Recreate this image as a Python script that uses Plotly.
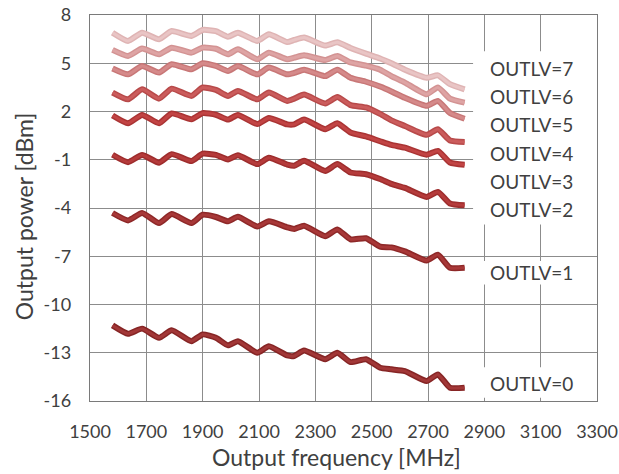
import plotly.graph_objects as go

# ---------------- data ----------------
freq = [1580, 1635, 1685, 1745, 1790, 1860, 1900, 1947, 1990, 2025, 2094, 2135, 2200,
        2225, 2260, 2335, 2378, 2425, 2480, 2530, 2570, 2618, 2695, 2735, 2778, 2830]

outlv0 = [-11.30, -11.82, -11.50, -12.07, -11.60, -12.28, -11.86, -12.07, -12.54, -12.28, -13.00, -12.60, -13.17,
          -13.20, -12.86, -13.40, -13.00, -13.58, -13.40, -13.93, -14.03, -14.14, -14.76, -14.35, -15.17, -15.17]
outlv1 = [-4.31, -4.77, -4.31, -4.94, -4.38, -4.94, -4.42, -4.56, -4.83, -4.55, -5.15, -4.83, -5.20,
          -5.30, -5.10, -5.75, -5.33, -5.95, -5.88, -6.40, -6.45, -6.70, -7.27, -6.90, -7.72, -7.72]
outlv2 = [-0.69, -1.15, -0.70, -1.18, -0.65, -1.08, -0.62, -0.70, -0.98, -0.72, -1.27, -0.88, -1.30,
          -1.37, -1.06, -1.70, -1.27, -1.79, -1.90, -2.20, -2.50, -2.75, -3.31, -3.00, -3.72, -3.83]
outlv3 = [1.75, 1.27, 1.79, 1.27, 1.88, 1.52, 1.90, 1.80, 1.50, 1.79, 1.22, 1.60, 1.20,
          1.20, 1.50, 0.90, 1.27, 0.70, 0.45, 0.15, -0.08, -0.25, -0.69, -0.45, -1.17, -1.31]
outlv4 = [3.18, 2.76, 3.38, 2.80, 3.42, 2.97, 3.49, 3.34, 2.97, 3.28, 2.76, 3.18, 2.66,
          2.80, 3.05, 2.50, 2.90, 2.40, 2.25, 1.85, 1.45, 1.10, 0.55, 0.90, 0.20, 0.10]
outlv5 = [4.67, 4.31, 4.83, 4.42, 4.94, 4.63, 5.00, 4.83, 4.52, 4.83, 4.31, 4.73, 4.31,
          4.40, 4.60, 4.20, 4.60, 4.10, 3.85, 3.55, 3.25, 2.85, 2.35, 2.66, 1.90, 1.55]
outlv6 = [5.83, 5.45, 5.91, 5.56, 5.97, 5.66, 5.97, 5.90, 5.56, 5.87, 5.25, 5.66, 5.25,
          5.35, 5.50, 5.20, 5.45, 5.05, 4.85, 4.60, 4.20, 3.80, 3.07, 3.50, 2.80, 2.55]
outlv7 = [6.90, 6.39, 6.90, 6.49, 7.00, 6.70, 7.07, 7.00, 6.65, 6.90, 6.39, 6.80, 6.32,
          6.45, 6.60, 6.10, 6.30, 5.95, 5.60, 5.30, 5.00, 4.60, 4.10, 4.25, 3.70, 3.38]

series = [outlv0, outlv1, outlv2, outlv3, outlv4, outlv5, outlv6, outlv7]
labels = ["OUTLV=0", "OUTLV=1", "OUTLV=2", "OUTLV=3", "OUTLV=4", "OUTLV=5", "OUTLV=6", "OUTLV=7"]
label_y = [-14.9, -8.0, -4.1, -2.35, -0.59, 1.17, 2.93, 4.69]

x_ticks = list(range(1500, 3301, 200))
y_ticks = list(range(-16, 9, 3))

# ---------------- styles ----------------
inner_colors = ["#a23737", "#a83838", "#b53b3b", "#c24444", "#cb5c5c", "#d58a8a", "#dea4a4", "#e9c5c5"]
edge_colors = ["#862525", "#8e2828", "#9e2d2d", "#aa3434", "#b84a4a", "#c87777", "#d39393", "#dfb4b4"]

fig = go.Figure()
for ys, lab, ic, ec in zip(series, labels, inner_colors, edge_colors):
    fig.add_trace(go.Scatter(x=freq, y=ys, mode="lines", name=lab,
                             line=dict(color=ec, width=6, shape="spline", smoothing=0.5),
                             hoverinfo="skip", showlegend=False))
    fig.add_trace(go.Scatter(x=freq, y=ys, mode="lines", name=lab,
                             line=dict(color=ic, width=3, shape="spline", smoothing=0.5),
                             hoverinfo="skip", showlegend=False))

# white boxes behind the series labels (cover the grid like in the reference)
boxes = [(5.74, -5.02), (-7.3, -8.75), (-13.9, -15.8)]
for top, bot in boxes:
    fig.add_shape(type="rect", xref="x", yref="y", x0=2860, x1=3300, y0=bot, y1=top,
                  fillcolor="white", line=dict(width=0), layer="above")

for lab, ly in zip(labels, label_y):
    fig.add_annotation(x=3069, y=ly, xref="x", yref="y", text=lab, showarrow=False,
                       xanchor="center", yanchor="middle",
                       font=dict(family="Lato", size=19, color="#404040"))

# axis titles
fig.add_annotation(x=0.487, y=-0.145, xref="paper", yref="paper", text="Output frequency [MHz]",
                   showarrow=False, xanchor="center", yanchor="middle",
                   font=dict(family="Lato", size=23, color="#404040"))
fig.add_annotation(x=-0.130, y=0.479, xref="paper", yref="paper", text="Output power [dBm]",
                   showarrow=False, xanchor="center", yanchor="middle", textangle=-90,
                   font=dict(family="Lato", size=23, color="#404040"))

axis_common = dict(showgrid=True, gridcolor="#8c8c8c", gridwidth=1, zeroline=False,
                   showline=True, linecolor="#7a7a7a", linewidth=1.3, mirror=True,
                   ticks="", automargin=False,
                   tickfont=dict(family="Lato", size=18, color="#404040"))

fig.update_xaxes(range=[1500, 3300], tickvals=x_ticks, ticktext=[str(v) for v in x_ticks],
                 ticklabelstandoff=14, **axis_common)
fig.update_yaxes(range=[-16, 8], tickvals=y_ticks, ticktext=[str(v) for v in y_ticks],
                 ticklabelstandoff=14, **axis_common)

fig.update_layout(width=619, height=474, margin=dict(l=90, r=22, t=15, b=73, autoexpand=False),
                  paper_bgcolor="white", plot_bgcolor="white", showlegend=False, hovermode=False,
                  font=dict(family="Lato", color="#404040"))

fig.write_html("out.html", config={"displayModeBar": False, "staticPlot": True},
               post_script="document.body.style.margin='0px';document.body.style.overflow='hidden';")
